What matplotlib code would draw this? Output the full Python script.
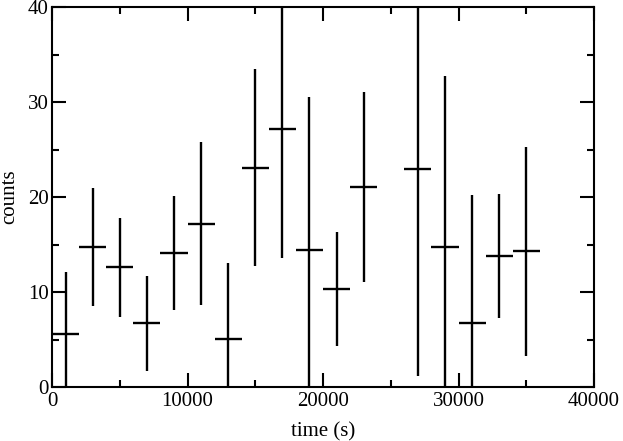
import numpy as np
import matplotlib.pyplot as plt

# light curve bins (bin centre, half width 1000 s)
t = [1000, 3000, 5000, 7000, 9000, 11000, 13000, 15000, 17000,
     19000, 21000, 23000, 27000, 29000, 31000, 33000, 35000]
counts = [5.6, 14.7, 12.6, 6.7, 14.1, 17.2, 5.1, 23.1, 27.2,
          14.4, 10.3, 21.1, 22.9, 14.7, 6.7, 13.8, 14.3]
err = [6.5, 6.2, 5.2, 5.0, 6.0, 8.6, 8.0, 10.4, 13.6,
       16.1, 6.0, 10.0, 21.7, 18.0, 13.5, 6.5, 11.0]
tbin = [1000] * len(t)

plt.rcParams['font.family'] = ['Liberation Serif', 'DejaVu Serif']
plt.rcParams['font.size'] = 15

fig = plt.figure(figsize=(6.23, 4.41), dpi=100)
ax = fig.add_axes([52 / 623, 1 - 387 / 441, (594 - 52) / 623, (387 - 7) / 441])

ax.errorbar(t, counts, xerr=tbin, yerr=err, fmt='none', ecolor='k',
            elinewidth=1.7, capsize=0)

ax.set_xlim(0, 40000)
ax.set_ylim(0, 40)
ax.set_xticks(np.arange(0, 40001, 10000))
ax.set_xticks(np.arange(0, 40001, 5000), minor=True)
ax.set_yticks(np.arange(0, 41, 10))
ax.set_yticks(np.arange(0, 41, 5), minor=True)
ax.tick_params(which='both', direction='in', top=True, right=True, width=1.5)
ax.tick_params(which='major', length=10, pad=2)
ax.tick_params(axis='x', which='major', pad=3.5)
ax.tick_params(axis='y', which='major', pad=2.5)
ax.tick_params(which='minor', length=5)
for s in ax.spines.values():
    s.set_linewidth(1.5)

ax.set_xlabel('time (s)', labelpad=8)
ax.set_ylabel('counts', labelpad=6)

fig.savefig('out.png', dpi=100)
